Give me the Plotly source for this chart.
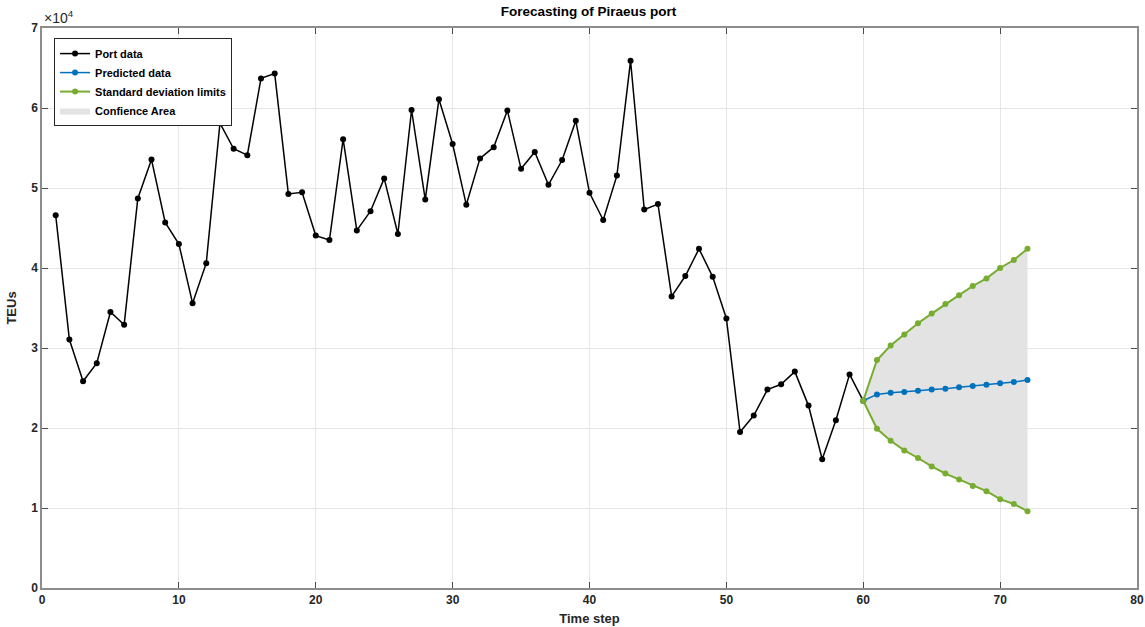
import plotly.graph_objects as go

# ---- data (TEUs) ----
port_x = list(range(1, 61))
port_y = [46600, 31050, 25840, 28100, 34500, 32900, 48700, 53550, 45700, 43000,
          35600, 40600, 58100, 54900, 54100, 63700, 64300, 49250, 49460, 44050,
          43500, 56100, 44700, 47100, 51200, 44250, 59750, 48550, 61100, 55500,
          47900, 53700, 55100, 59700, 52400, 54500, 50400, 53500, 58400, 49400,
          46000, 51550, 65900, 47300, 48000, 36450, 39000, 42400, 38900, 33700,
          19500, 21550, 24800, 25460, 27050, 22800, 16100, 20960, 26700, 23400]

pred_x = list(range(60, 73))
pred_y = [23400, 24200, 24400, 24500, 24670, 24800, 24900, 25100, 25250, 25400,
          25600, 25750, 26000]
upper_y = [23400, 28500, 30300, 31700, 33100, 34300, 35500, 36600, 37750, 38700,
           40000, 41000, 42400]
lower_y = [23400, 19900, 18400, 17200, 16250, 15200, 14300, 13550, 12750, 12100,
           11100, 10500, 9600]

yticks = [0, 10000, 20000, 30000, 40000, 50000, 60000, 70000]
ytick_text = ["0", "1", "2", "3", "4", "5", "6", "7"]
xticks = [0, 10, 20, 30, 40, 50, 60, 70, 80]

BLACK = "#000000"
BLUE = "#0072BD"
GREEN = "#77AC30"
FILL = "#E3E3E3"
AXC = "#8c8c8c"
TICKC = "#4d4d4d"
FONT = "Liberation Sans, Arial, sans-serif"

fig = go.Figure()

# confidence area
fig.add_trace(go.Scatter(x=pred_x, y=lower_y, mode="lines", line=dict(width=0),
                         showlegend=False, hoverinfo="skip"))
fig.add_trace(go.Scatter(x=pred_x, y=upper_y, mode="lines", line=dict(width=0),
                         fill="tonexty", fillcolor=FILL, name="Confience Area",
                         legendrank=4))

fig.add_trace(go.Scatter(x=port_x, y=port_y, mode="lines+markers", name="Port data",
                         line=dict(color=BLACK, width=1.5),
                         marker=dict(color=BLACK, size=6), legendrank=1))
fig.add_trace(go.Scatter(x=pred_x, y=pred_y, mode="lines+markers", name="Predicted data",
                         line=dict(color=BLUE, width=1.5),
                         marker=dict(color=BLUE, size=6), legendrank=2))
fig.add_trace(go.Scatter(x=pred_x, y=upper_y, mode="lines+markers",
                         name="Standard deviation limits",
                         line=dict(color=GREEN, width=2),
                         marker=dict(color=GREEN, size=6), legendrank=3))
fig.add_trace(go.Scatter(x=pred_x, y=lower_y, mode="lines+markers", showlegend=False,
                         line=dict(color=GREEN, width=2),
                         marker=dict(color=GREEN, size=6)))

axis_common = dict(showline=True, linecolor=AXC, linewidth=1.5, mirror="allticks",
                   ticks="inside", ticklen=6, tickcolor=TICKC, automargin=False,
                   showgrid=True, gridcolor="#E6E6E6", gridwidth=1, zeroline=False,
                   tickfont=dict(family=FONT, size=12, color="#262626", weight="bold"))

fig.update_xaxes(range=[0, 80], tickvals=xticks, **axis_common,
                 title=dict(text="<b>Time step</b>", standoff=8,
                            font=dict(family=FONT, size=13, color="#262626")))
fig.update_yaxes(range=[0, 70000], tickvals=yticks, ticktext=ytick_text, **axis_common,
                 title=dict(text="<b>TEUs</b>", standoff=12,
                            font=dict(family=FONT, size=13, color="#262626")))

fig.update_layout(
    width=1145, height=627,
    margin=dict(l=42, r=8, t=28, b=39),
    paper_bgcolor="white", plot_bgcolor="white",
    title=dict(text="<b>Forecasting of Piraeus port</b>", x=0.514, xanchor="center",
               y=0.99, yanchor="top",
               font=dict(family=FONT, size=13.5, color="#000000")),
    legend=dict(x=0.011, y=0.982, xanchor="left", yanchor="top",
                traceorder="normal",
                bgcolor="white", bordercolor="#262626", borderwidth=1,
                font=dict(family=FONT, size=11, color="#000000", weight="bold"),
                tracegroupgap=0, itemwidth=30),
    annotations=[dict(text="\u00d710<sup>4</sup>", xref="paper", yref="paper",
                      x=0.0, y=1.0, xanchor="left", yanchor="bottom", showarrow=False,
                      font=dict(family=FONT, size=14, color="#262626"))],
    showlegend=True,
)

fig.write_html("out.html")
